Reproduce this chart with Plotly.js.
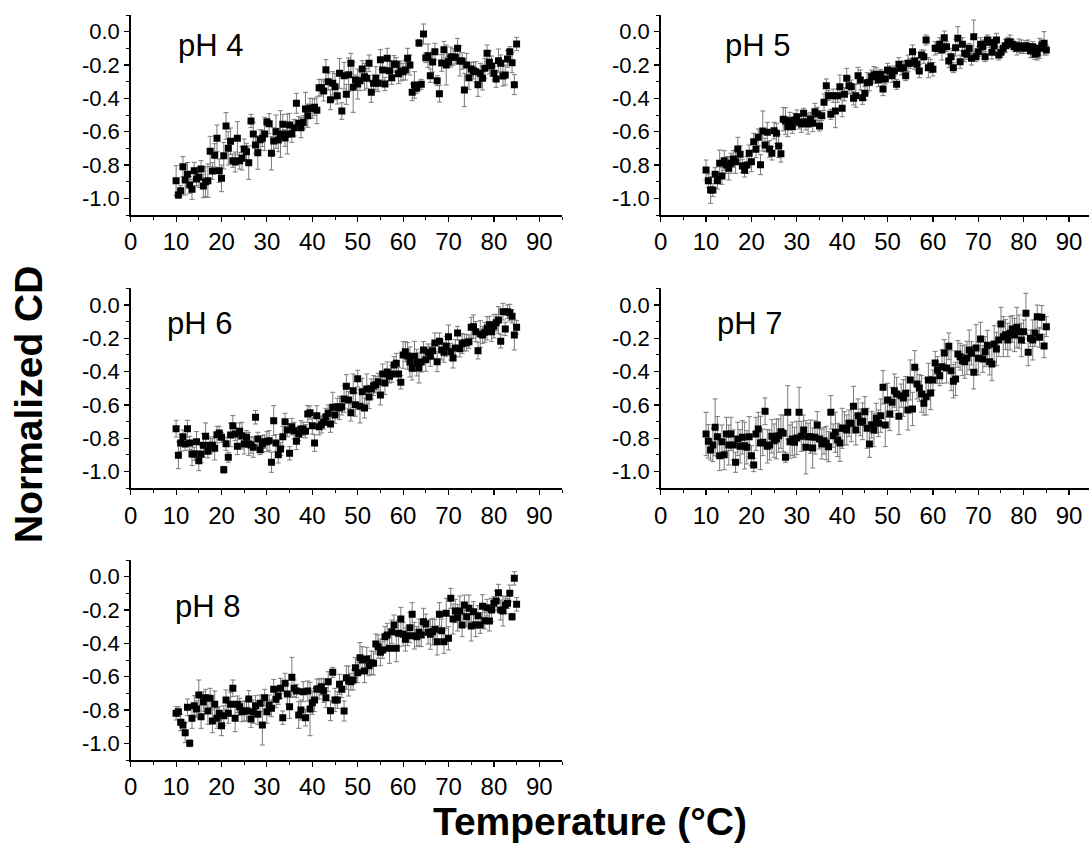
<!DOCTYPE html>
<html>
<head>
<meta charset="utf-8">
<script src="https://cdn.plot.ly/plotly-3.0.1.min.js"></script>
<style>html,body{margin:0;padding:0;background:#fff;}#plot{width:1089px;height:844px;}</style>
</head>
<body>
<div id="plot"></div>
<script>
// Temperature (°C)
var temperature = [10,10.5,11,11.5,12,12.5,13,13.5,14,14.5,15,15.5,16,16.5,17,17.5,18,18.5,19,19.5,
20,20.5,21,21.5,22,22.5,23,23.5,24,24.5,25,25.5,26,26.5,27,27.5,28,28.5,29,29.5,
30,30.5,31,31.5,32,32.5,33,33.5,34,34.5,35,35.5,36,36.5,37,37.5,38,38.5,39,39.5,
40,40.5,41,41.5,42,42.5,43,43.5,44,44.5,45,45.5,46,46.5,47,47.5,48,48.5,49,49.5,
50,50.5,51,51.5,52,52.5,53,53.5,54,54.5,55,55.5,56,56.5,57,57.5,58,58.5,59,59.5,
60,60.5,61,61.5,62,62.5,63,63.5,64,64.5,65,65.5,66,66.5,67,67.5,68,68.5,69,69.5,
70,70.5,71,71.5,72,72.5,73,73.5,74,74.5,75,75.5,76,76.5,77,77.5,78,78.5,79,79.5,
80,80.5,81,81.5,82,82.5,83,83.5,84,84.5,85];

var panelLabels = ["pH 4","pH 5","pH 6","pH 7","pH 8"];

var cd_pH4 = [-0.894,-0.98,-0.954,-0.81,-0.89,-0.855,-0.92,-0.946,-0.834,-0.884,
-0.874,-0.824,-0.926,-0.9,-0.894,-0.718,-0.836,-0.742,-0.64,-0.834,
-0.88,-0.744,-0.566,-0.7,-0.658,-0.774,-0.782,-0.64,-0.774,-0.76,
-0.704,-0.72,-0.786,-0.536,-0.614,-0.68,-0.726,-0.648,-0.64,-0.614,
-0.542,-0.552,-0.73,-0.656,-0.6,-0.65,-0.614,-0.556,-0.638,-0.614,
-0.56,-0.614,-0.576,-0.43,-0.55,-0.576,-0.544,-0.464,-0.504,-0.46,
-0.46,-0.454,-0.472,-0.336,-0.336,-0.356,-0.228,-0.3,-0.408,-0.31,
-0.33,-0.384,-0.25,-0.476,-0.264,-0.376,-0.258,-0.19,-0.334,-0.29,
-0.314,-0.294,-0.224,-0.27,-0.28,-0.19,-0.364,-0.31,-0.28,-0.31,
-0.168,-0.23,-0.314,-0.16,-0.234,-0.276,-0.194,-0.196,-0.252,-0.236,
-0.24,-0.23,-0.16,-0.2,-0.364,-0.32,-0.34,-0.068,-0.316,-0.014,
-0.156,-0.144,-0.264,-0.182,-0.12,-0.294,-0.372,-0.188,-0.108,-0.2,
-0.18,-0.152,-0.152,-0.154,-0.1,-0.176,-0.176,-0.35,-0.2,-0.276,
-0.224,-0.234,-0.24,-0.318,-0.25,-0.28,-0.22,-0.13,-0.184,-0.206,
-0.25,-0.284,-0.174,-0.19,-0.266,-0.26,-0.164,-0.12,-0.186,-0.318,
-0.074];
var err_pH4 = [0.09,0.02,0.03,0.06,0.09,0.07,0.05,0.06,0.05,0.04,
0.06,0.05,0.07,0.09,0.1,0.09,0.05,0.07,0.08,0.07,
0.08,0.08,0.08,0.1,0.08,0.04,0.06,0.1,0.05,0.07,
0.06,0.05,0.1,0.04,0.07,0.05,0.1,0.06,0.05,0.1,
0.02,0.06,0.1,0.08,0.1,0.07,0.14,0.06,0.05,0.12,
0.07,0.05,0.05,0.06,0.04,0.06,0.04,0.1,0.07,0.06,
0.06,0.05,0.08,0.05,0.05,0.06,0.06,0.05,0.06,0.07,
0.08,0.05,0.09,0.05,0.08,0.06,0.1,0.06,0.15,0.03,
0.09,0.06,0.05,0.08,0.06,0.05,0.06,0.05,0.07,0.05,
0.06,0.06,0.04,0.06,0.06,0.04,0.05,0.04,0.06,0.06,
0.05,0.06,0.06,0.06,0.05,0.08,0.03,0.02,0.03,0.06,
0.03,0.07,0.04,0.06,0.05,0.03,0.05,0.05,0.05,0.12,
0.03,0.06,0.05,0.04,0.06,0.09,0.05,0.1,0.07,0.07,
0.04,0.05,0.06,0.07,0.06,0.07,0.06,0.05,0.07,0.06,
0.04,0.05,0.07,0.05,0.06,0.06,0.05,0.03,0.06,0.06,
0.04];

var cd_pH5 = [-0.83,-0.894,-0.95,-0.95,-0.856,-0.894,-0.79,-0.866,-0.774,-0.8,
-0.82,-0.79,-0.764,-0.78,-0.704,-0.736,-0.806,-0.832,-0.8,-0.73,
-0.78,-0.66,-0.706,-0.634,-0.798,-0.596,-0.68,-0.604,-0.704,-0.73,
-0.594,-0.61,-0.686,-0.732,-0.526,-0.536,-0.57,-0.534,-0.57,-0.53,
-0.51,-0.544,-0.554,-0.49,-0.54,-0.554,-0.524,-0.55,-0.48,-0.494,
-0.566,-0.504,-0.424,-0.324,-0.384,-0.496,-0.384,-0.476,-0.384,-0.33,
-0.46,-0.376,-0.28,-0.324,-0.33,-0.4,-0.384,-0.264,-0.29,-0.396,
-0.37,-0.306,-0.304,-0.27,-0.26,-0.256,-0.29,-0.256,-0.344,-0.284,
-0.23,-0.236,-0.264,-0.236,-0.316,-0.196,-0.22,-0.216,-0.264,-0.19,
-0.19,-0.12,-0.176,-0.196,-0.236,-0.14,-0.15,-0.05,-0.216,-0.206,
-0.226,-0.1,-0.1,-0.076,-0.11,-0.036,-0.09,-0.176,-0.15,-0.216,
-0.096,-0.04,-0.18,-0.076,-0.13,-0.136,-0.1,-0.16,-0.03,-0.15,
-0.12,-0.076,-0.09,-0.15,-0.05,-0.064,-0.124,-0.084,-0.05,-0.14,
-0.124,-0.1,-0.084,-0.064,-0.06,-0.076,-0.09,-0.1,-0.084,-0.09,
-0.1,-0.084,-0.09,-0.116,-0.09,-0.136,-0.13,-0.1,-0.08,-0.07,
-0.11];
var err_pH5 = [0.06,0.04,0.08,0.04,0.04,0.05,0.08,0.05,0.06,0.05,
0.07,0.06,0.05,0.07,0.07,0.05,0.04,0.04,0.05,0.05,
0.06,0.05,0.05,0.05,0.06,0.12,0.04,0.06,0.05,0.04,
0.05,0.06,0.07,0.05,0.07,0.08,0.06,0.05,0.04,0.04,
0.04,0.04,0.05,0.03,0.05,0.06,0.04,0.05,0.05,0.04,
0.03,0.03,0.05,0.04,0.03,0.03,0.04,0.1,0.04,0.07,
0.05,0.04,0.06,0.05,0.04,0.04,0.07,0.05,0.06,0.04,
0.04,0.06,0.05,0.04,0.05,0.04,0.04,0.03,0.04,0.03,
0.04,0.03,0.04,0.03,0.03,0.04,0.04,0.04,0.03,0.05,
0.03,0.04,0.05,0.04,0.04,0.03,0.04,0.03,0.06,0.04,
0.04,0.04,0.03,0.04,0.06,0.04,0.03,0.04,0.05,0.03,
0.05,0.07,0.04,0.04,0.05,0.03,0.03,0.04,0.1,0.03,
0.03,0.04,0.04,0.03,0.03,0.03,0.04,0.03,0.04,0.03,
0.03,0.03,0.04,0.03,0.04,0.03,0.03,0.04,0.04,0.04,
0.03,0.03,0.04,0.04,0.03,0.03,0.04,0.06,0.03,0.07,
0.03];

var cd_pH6 = [-0.742,-0.902,-0.828,-0.79,-0.834,-0.742,-0.828,-0.894,-0.894,-0.82,
-0.934,-0.896,-0.842,-0.788,-0.878,-0.842,-0.842,-0.86,-0.778,-0.768,
-0.794,-0.988,-0.832,-0.914,-0.78,-0.724,-0.774,-0.848,-0.758,-0.784,
-0.834,-0.794,-0.834,-0.84,-0.854,-0.674,-0.804,-0.868,-0.834,-0.82,
-0.82,-0.814,-0.944,-0.694,-0.828,-0.898,-0.864,-0.79,-0.7,-0.75,
-0.89,-0.73,-0.754,-0.818,-0.774,-0.744,-0.744,-0.758,-0.654,-0.646,
-0.724,-0.828,-0.664,-0.73,-0.718,-0.704,-0.67,-0.65,-0.714,-0.614,
-0.66,-0.61,-0.618,-0.61,-0.564,-0.488,-0.57,-0.646,-0.514,-0.598,
-0.442,-0.608,-0.52,-0.618,-0.504,-0.552,-0.504,-0.484,-0.478,-0.46,
-0.54,-0.414,-0.468,-0.402,-0.428,-0.414,-0.36,-0.35,-0.414,-0.464,
-0.3,-0.28,-0.306,-0.342,-0.38,-0.308,-0.346,-0.378,-0.342,-0.27,
-0.328,-0.284,-0.308,-0.274,-0.228,-0.34,-0.218,-0.27,-0.284,-0.248,
-0.19,-0.28,-0.318,-0.258,-0.168,-0.262,-0.232,-0.226,-0.226,-0.22,
-0.134,-0.13,-0.16,-0.274,-0.174,-0.18,-0.164,-0.14,-0.118,-0.16,
-0.128,-0.106,-0.09,-0.218,-0.04,-0.144,-0.04,-0.046,-0.068,-0.18,
-0.134];
var err_pH6 = [0.05,0.08,0.05,0.04,0.04,0.05,0.04,0.07,0.04,0.06,
0.06,0.05,0.07,0.08,0.04,0.05,0.04,0.07,0.05,0.04,
0.03,0.02,0.04,0.03,0.07,0.06,0.04,0.05,0.05,0.08,
0.06,0.04,0.07,0.05,0.06,0.04,0.04,0.03,0.05,0.04,
0.06,0.06,0.06,0.09,0.05,0.05,0.04,0.06,0.05,0.04,
0.04,0.05,0.05,0.05,0.04,0.05,0.04,0.04,0.05,0.04,
0.05,0.05,0.06,0.05,0.05,0.04,0.05,0.05,0.05,0.09,
0.05,0.05,0.07,0.05,0.08,0.07,0.05,0.05,0.1,0.07,
0.05,0.1,0.08,0.06,0.09,0.07,0.06,0.06,0.05,0.05,
0.06,0.06,0.07,0.06,0.04,0.05,0.05,0.06,0.04,0.04,
0.08,0.06,0.08,0.09,0.07,0.09,0.08,0.09,0.06,0.05,
0.07,0.05,0.06,0.04,0.06,0.06,0.05,0.06,0.06,0.06,
0.07,0.05,0.06,0.05,0.04,0.05,0.06,0.05,0.05,0.04,
0.06,0.07,0.06,0.05,0.08,0.05,0.06,0.07,0.05,0.06,
0.07,0.05,0.08,0.04,0.05,0.04,0.04,0.05,0.04,0.09,
0.04];

var cd_pH7 = [-0.774,-0.818,-0.87,-0.84,-0.734,-0.79,-0.904,-0.82,-0.898,-0.774,
-0.84,-0.774,-0.84,-0.944,-0.804,-0.848,-0.794,-0.844,-0.854,-0.79,
-0.904,-0.96,-0.774,-0.744,-0.828,-0.824,-0.638,-0.848,-0.84,-0.788,
-0.814,-0.804,-0.784,-0.76,-0.77,-0.914,-0.644,-0.82,-0.804,-0.824,
-0.798,-0.644,-0.788,-0.75,-0.854,-0.79,-0.79,-0.858,-0.794,-0.72,
-0.804,-0.834,-0.814,-0.828,-0.85,-0.644,-0.784,-0.764,-0.81,-0.828,
-0.74,-0.74,-0.75,-0.71,-0.71,-0.608,-0.75,-0.664,-0.704,-0.698,
-0.64,-0.74,-0.834,-0.718,-0.75,-0.68,-0.71,-0.664,-0.494,-0.72,
-0.57,-0.654,-0.584,-0.514,-0.534,-0.668,-0.544,-0.558,-0.53,-0.63,
-0.45,-0.624,-0.374,-0.474,-0.498,-0.534,-0.59,-0.55,-0.45,-0.528,
-0.45,-0.348,-0.39,-0.424,-0.37,-0.288,-0.378,-0.248,-0.394,-0.458,
-0.444,-0.294,-0.31,-0.334,-0.34,-0.318,-0.27,-0.29,-0.404,-0.258,
-0.32,-0.204,-0.324,-0.28,-0.242,-0.34,-0.354,-0.234,-0.264,-0.21,
-0.114,-0.19,-0.178,-0.21,-0.17,-0.144,-0.18,-0.134,-0.16,-0.21,
-0.16,-0.05,-0.284,-0.2,-0.21,-0.168,-0.07,-0.194,-0.074,-0.246,
-0.13];
var err_pH7 = [0.13,0.1,0.06,0.1,0.17,0.12,0.09,0.1,0.09,0.1,
0.12,0.1,0.09,0.06,0.1,0.1,0.1,0.14,0.1,0.12,
0.06,0.04,0.1,0.1,0.16,0.08,0.08,0.1,0.09,0.1,
0.1,0.12,0.1,0.1,0.11,0.03,0.16,0.1,0.1,0.09,
0.1,0.15,0.09,0.09,0.16,0.08,0.1,0.12,0.1,0.08,
0.06,0.09,0.08,0.1,0.09,0.1,0.07,0.12,0.1,0.11,
0.12,0.1,0.09,0.08,0.11,0.12,0.09,0.1,0.08,0.11,
0.09,0.12,0.08,0.08,0.1,0.09,0.08,0.1,0.1,0.13,
0.1,0.1,0.09,0.1,0.1,0.11,0.07,0.11,0.1,0.12,
0.12,0.1,0.1,0.09,0.08,0.11,0.07,0.11,0.1,0.1,
0.06,0.07,0.08,0.06,0.1,0.08,0.09,0.08,0.12,0.1,
0.1,0.08,0.08,0.09,0.1,0.1,0.12,0.07,0.1,0.14,
0.1,0.1,0.08,0.09,0.09,0.08,0.1,0.11,0.1,0.1,
0.1,0.12,0.09,0.1,0.1,0.08,0.1,0.12,0.1,0.1,
0.07,0.12,0.08,0.05,0.12,0.08,0.07,0.06,0.07,0.07,
0.06];

var cd_pH8 = [-0.82,-0.81,-0.874,-0.89,-0.936,-0.784,-1.0,-0.85,-0.774,-0.794,
-0.71,-0.84,-0.75,-0.726,-0.806,-0.73,-0.866,-0.766,-0.85,-0.82,
-0.894,-0.834,-0.74,-0.82,-0.766,-0.67,-0.85,-0.766,-0.78,-0.81,
-0.806,-0.806,-0.734,-0.854,-0.81,-0.774,-0.826,-0.76,-0.89,-0.726,
-0.81,-0.77,-0.79,-0.676,-0.736,-0.716,-0.67,-0.846,-0.64,-0.704,
-0.78,-0.604,-0.67,-0.686,-0.83,-0.8,-0.69,-0.846,-0.686,-0.794,
-0.756,-0.74,-0.674,-0.674,-0.66,-0.684,-0.726,-0.63,-0.804,-0.574,
-0.74,-0.74,-0.646,-0.676,-0.806,-0.606,-0.626,-0.63,-0.62,-0.546,
-0.576,-0.486,-0.5,-0.566,-0.494,-0.534,-0.516,-0.52,-0.404,-0.42,
-0.454,-0.44,-0.36,-0.35,-0.43,-0.33,-0.29,-0.43,-0.34,-0.254,
-0.346,-0.376,-0.354,-0.306,-0.226,-0.354,-0.36,-0.334,-0.35,-0.27,
-0.284,-0.334,-0.346,-0.33,-0.316,-0.39,-0.226,-0.324,-0.39,-0.22,
-0.37,-0.13,-0.254,-0.206,-0.246,-0.206,-0.29,-0.17,-0.24,-0.19,
-0.296,-0.21,-0.29,-0.234,-0.29,-0.178,-0.264,-0.186,-0.266,-0.2,
-0.16,-0.146,-0.096,-0.2,-0.206,-0.17,-0.16,-0.1,-0.24,-0.01,
-0.166];
var err_pH8 = [0.04,0.03,0.05,0.03,0.06,0.05,0.02,0.06,0.06,0.05,
0.09,0.07,0.06,0.05,0.08,0.06,0.07,0.08,0.06,0.04,
0.06,0.06,0.06,0.06,0.07,0.05,0.08,0.05,0.05,0.06,
0.06,0.06,0.05,0.05,0.07,0.06,0.06,0.05,0.12,0.05,
0.07,0.06,0.05,0.06,0.05,0.05,0.06,0.04,0.06,0.06,
0.07,0.12,0.05,0.04,0.08,0.06,0.06,0.05,0.06,0.16,
0.07,0.07,0.06,0.06,0.05,0.07,0.06,0.06,0.06,0.03,
0.07,0.05,0.06,0.05,0.06,0.07,0.09,0.05,0.06,0.06,
0.06,0.09,0.08,0.07,0.07,0.06,0.07,0.07,0.06,0.07,
0.08,0.05,0.06,0.07,0.09,0.07,0.06,0.08,0.08,0.07,
0.07,0.07,0.06,0.09,0.07,0.08,0.06,0.08,0.07,0.08,
0.06,0.07,0.09,0.08,0.06,0.08,0.07,0.07,0.07,0.09,
0.07,0.06,0.09,0.07,0.08,0.09,0.07,0.06,0.06,0.08,
0.09,0.06,0.07,0.06,0.05,0.07,0.05,0.05,0.06,0.07,
0.04,0.06,0.05,0.06,0.09,0.05,0.03,0.05,0.02,0.04,
0.04];

var xTickVals = [0,10,20,30,40,50,60,70,80,90];
var xTickText = ["0","10","20","30","40","50","60","70","80","90"];
var yTickVals = [-1.0,-0.8,-0.6,-0.4,-0.2,0.0];
var yTickText = ["-1.0","-0.8","-0.6","-0.4","-0.2","0.0"];
var xTitle = "Temperature (°C)";
var yTitle = "Normalized CD";

var series = [cd_pH4, cd_pH5, cd_pH6, cd_pH7, cd_pH8];
var errors = [err_pH4, err_pH5, err_pH6, err_pH7, err_pH8];

var FONT = "Liberation Sans, Arial, Helvetica, sans-serif";
var W = 1089, H = 844;

// panel geometry in pixels: [left, right, top, bottom, xmax]
var geom = [
  [130.7, 562, 15, 215, 95],
  [660.7, 1089, 15, 215, 94.4],
  [130.7, 562, 288.3, 488.3, 95],
  [660.7, 1089, 288.3, 488.3, 94.4],
  [130.7, 562, 560, 760, 95]
];
var labelPos = [[210, 45], [757, 45], [200, 323], [749, 323], [207, 606]];

var traces = [];
var layout = {
  width: W, height: H,
  margin: {l: 0, r: 0, t: 0, b: 0},
  paper_bgcolor: "#fff", plot_bgcolor: "#fff",
  showlegend: false,
  font: {family: FONT, color: "#000"},
  annotations: []
};

for (var i = 0; i < 5; i++) {
  var g = geom[i];
  var sx = i === 0 ? "" : String(i + 1);
  traces.push({
    type: "scatter", mode: "markers",
    x: temperature, y: series[i],
    xaxis: "x" + sx, yaxis: "y" + sx,
    marker: {symbol: "square", size: 7, color: "#000"},
    error_y: {type: "data", array: errors[i], symmetric: true, color: "#7a7a7a", thickness: 1, width: 2.5},
    hoverinfo: "x+y"
  });
  layout["xaxis" + sx] = {
    domain: [g[0] / W, g[1] / W], anchor: "y" + sx,
    range: [0, g[4]], showgrid: false, zeroline: false,
    showline: true, linecolor: "#000", linewidth: 1.5,
    ticks: "outside", ticklen: 5, tickwidth: 1.2, tickcolor: "#000",
    tickmode: "array", tickvals: xTickVals, ticktext: xTickText,
    minor: {dtick: 5, tick0: 0, ticks: "outside", ticklen: 3, tickwidth: 1, tickcolor: "#000", showgrid: false},
    tickfont: {family: FONT, size: 24, color: "#000"}
  };
  layout["yaxis" + sx] = {
    domain: [(H - g[3]) / H, (H - g[2]) / H], anchor: "x" + sx,
    range: [-1.1, 0.1], showgrid: false, zeroline: false,
    showline: true, linecolor: "#000", linewidth: 1.5,
    ticks: "outside", ticklen: 5, tickwidth: 1.2, tickcolor: "#000",
    tickmode: "array", tickvals: yTickVals, ticktext: yTickText,
    minor: {dtick: 0.1, tick0: 0, ticks: "outside", ticklen: 3, tickwidth: 1, tickcolor: "#000", showgrid: false},
    tickfont: {family: FONT, size: 22, color: "#000"}
  };
  layout.annotations.push({
    text: panelLabels[i], xref: "paper", yref: "paper",
    x: labelPos[i][0] / W, y: (H - labelPos[i][1]) / H,
    xanchor: "center", yanchor: "middle", showarrow: false,
    font: {family: FONT, size: 31, color: "#000"}
  });
}

layout.annotations.push({
  text: "<b>" + yTitle + "</b>", xref: "paper", yref: "paper",
  x: 28 / W, y: (H - 405) / H, xanchor: "center", yanchor: "middle",
  textangle: -90, showarrow: false,
  font: {family: FONT, size: 39, color: "#000"}
});
layout.annotations.push({
  text: "<b>" + xTitle + "</b>", xref: "paper", yref: "paper",
  x: 590 / W, y: (H - 821) / H, xanchor: "center", yanchor: "middle",
  showarrow: false,
  font: {family: FONT, size: 39, color: "#000"}
});

Plotly.newPlot("plot", traces, layout, {staticPlot: true, displayModeBar: false});
</script>
</body>
</html>
